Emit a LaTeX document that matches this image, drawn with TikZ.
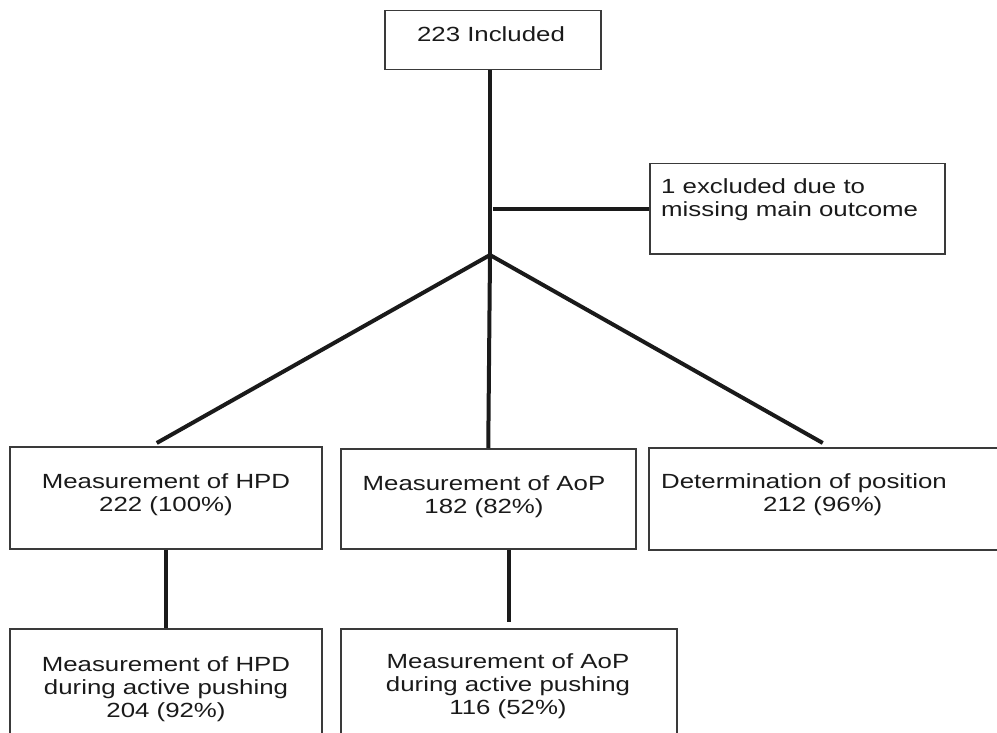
\documentclass[tikz,border=0pt]{standalone}
\usepackage{fontspec}
\setmainfont{Liberation Sans}[FakeStretch=1.26]
\definecolor{boxgray}{HTML}{3A3A3A}
\definecolor{textgray}{HTML}{1A1A1A}
\definecolor{linegray}{HTML}{1A1A1A}
\begin{document}
\begin{tikzpicture}[x=1pt,y=-1pt,
 box/.style={draw=boxgray, line width=1.5pt, inner sep=0pt, anchor=north west},
 txt/.style={inner sep=0pt, anchor=north, align=center, font=\fontsize{20.5}{23.3}\selectfont, text=textgray},
 link/.style={line width=4pt, draw=linegray}]
\useasboundingbox (0,0) rectangle (997,733);
\clip (0,0) rectangle (997,733);
% boxes
\node[box, minimum width=216pt, minimum height=59pt] (top) at (384,10) {};
\node[box, minimum width=295pt, minimum height=90pt] (excl) at (649,163) {};
\node[box, minimum width=312pt, minimum height=102pt] (hpd) at (9,446) {};
\node[box, minimum width=295pt, minimum height=100pt] (aop) at (340,448) {};
\node[box, minimum width=360pt, minimum height=102pt] (pos) at (648,447) {};
\node[box, minimum width=312pt, minimum height=130pt] (hpd2) at (9,628) {};
\node[box, minimum width=336pt, minimum height=130pt] (aop2) at (340,628) {};
% texts
\node[txt] (ttop) at (491,26) {223 Included};
\node[txt, align=left, anchor=north west] (texcl) at (661,178) {1 excluded due to\\missing main outcome};
\node[txt] (thpd) at (166,473) {Measurement of HPD\\222 (100\%)};
\node[txt] (taop) at (484,475) {Measurement of AoP\\182 (82\%)};
\node[txt, align=left, anchor=north west] (tpos) at (661,473) {Determination of position\\\hspace*{102pt}212 (96\%)};
\node[txt] (thpd2) at (166,656) {Measurement of HPD\\during active pushing\\204 (92\%)};
\node[txt] (taop2) at (508,653) {Measurement of AoP\\during active pushing\\116 (52\%)};
% connectors
\coordinate (branch) at (490,255);
\draw[link] (top.south -| branch) -- (branch);
\draw[link] ([xshift=3pt]branch |- excl.west) -- (excl.west);
\draw[link] (branch) -- ([xshift=-9pt,yshift=3pt]hpd.north);
\draw[link] (branch) -- (aop.north);
\draw[link] (branch) -- ([xshift=-6pt,yshift=4pt]pos.north);
\draw[link] (hpd.south) -- (hpd2.north);
\draw[link] (aop.south -| aop2.north) -- ([yshift=6pt]aop2.north);
\end{tikzpicture}
\end{document}
